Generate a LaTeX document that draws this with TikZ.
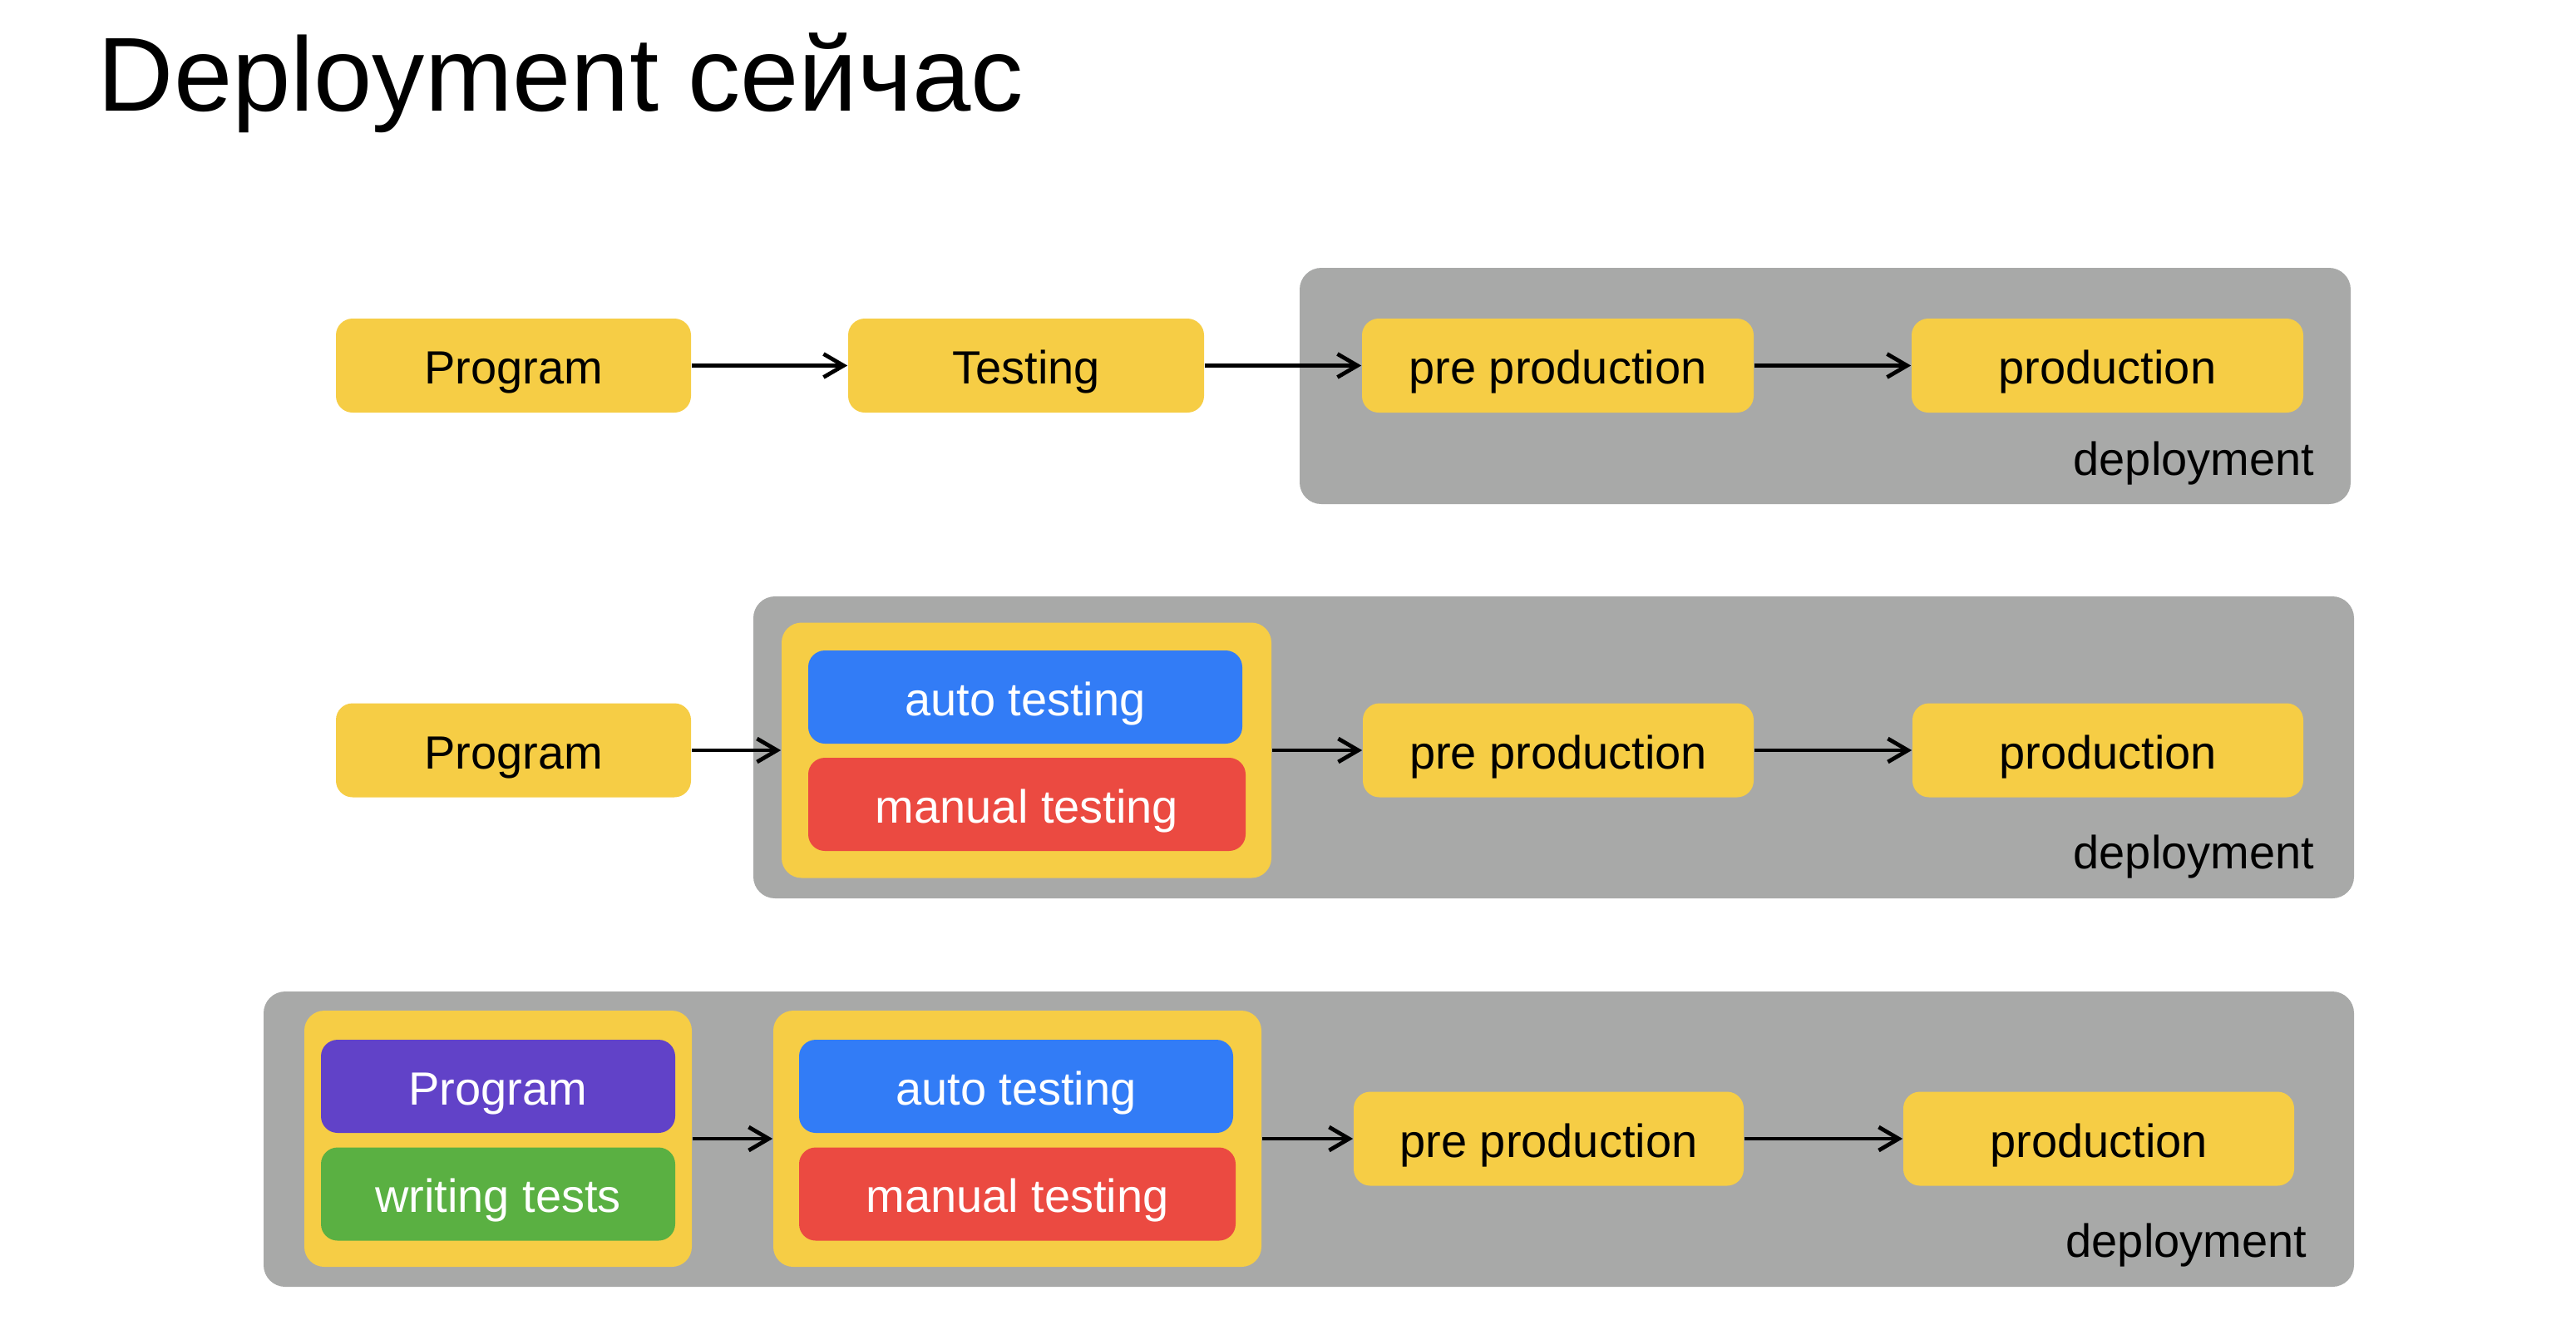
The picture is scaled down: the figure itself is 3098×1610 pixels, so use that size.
\documentclass[tikz,border=0pt]{standalone}
\usepackage{fontspec}
\setmainfont{Liberation Sans}
\usetikzlibrary{arrows.meta}
\definecolor{stageyellow}{RGB}{246,205,69}
\definecolor{envgray}{RGB}{168,169,168}
\definecolor{autoblue}{RGB}{50,124,246}
\definecolor{manualred}{RGB}{235,74,65}
\definecolor{progpurple}{RGB}{97,66,200}
\definecolor{testgreen}{RGB}{90,176,66}
\begin{document}
\begin{tikzpicture}[x=0.25pt,y=0.25pt,yscale=-1,xscale=1,
	stagebox/.style={fill=stageyellow,rounded corners=5pt,inner sep=0pt,minimum height=28.25pt,text height=11pt,text depth=0pt,font=\fontsize{14}{16}\selectfont},
	innerbox/.style={stagebox,text=white,minimum height=28pt},
	envbox/.style={fill=envgray,rounded corners=6.5pt,inner sep=0pt},
	groupbox/.style={fill=stageyellow,rounded corners=6pt,inner sep=0pt},
	envlabel/.style={anchor=base east,inner sep=0pt,font=\fontsize{14}{16}\selectfont},
	flow/.style={-{Straight Barb[length=6pt,width=7pt]},line width=1.2pt}]
	\useasboundingbox (0,0) rectangle (3098,1610);
	\node [anchor=base west,inner sep=0pt,font=\fontsize{31.6}{36}\selectfont] (title) at (117,133) {Deployment сейчас};
	% first row
	\node [envbox,minimum width=316pt,minimum height=71pt] (env1) at (2195,464) {};
	\node [stagebox,minimum width=106.75pt] (prog1) at (617.5,439.5) {Program};
	\node [stagebox,minimum width=107pt] (test1) at (1234,439.5) {Testing};
	\node [stagebox,minimum width=117.75pt] (pre1) at (1873.5,439.5) {pre production};
	\node [stagebox,minimum width=117.75pt] (prod1) at (2534.5,439.5) {production};
	\node [envlabel] (dep1) at (2784,571) {deployment};
	\draw [flow] (prog1) -- (test1);
	\draw [flow] (test1) -- (pre1);
	\draw [flow] (pre1) -- (prod1);
	% second row
	\node [envbox,minimum width=481.25pt,minimum height=90.75pt] (env2) at (1868.5,898.5) {};
	\node [stagebox,minimum width=106.75pt] (prog2) at (617.5,902) {Program};
	\node [groupbox,minimum width=147.25pt,minimum height=76.75pt] (tests2) at (1234.5,902) {};
	\node [innerbox,fill=autoblue,minimum width=130.5pt] (auto2) at (1233,838) {auto testing};
	\node [innerbox,fill=manualred,minimum width=131.5pt] (manual2) at (1235,967) {manual testing};
	\node [stagebox,minimum width=117.5pt] (pre2) at (1874,902) {pre production};
	\node [stagebox,minimum width=117.5pt] (prod2) at (2535,902) {production};
	\node [envlabel] (dep2) at (2784,1044) {deployment};
	\draw [flow] (prog2) -- (tests2);
	\draw [flow] (tests2) -- (pre2);
	\draw [flow] (pre2) -- (prod2);
	% third row
	\node [envbox,minimum width=628.5pt,minimum height=88.75pt] (env3) at (1574,1369.5) {};
	\node [groupbox,minimum width=116.5pt,minimum height=77pt] (dev3) at (599,1369) {};
	\node [innerbox,fill=progpurple,minimum width=106.5pt] (prog3) at (599,1306) {Program};
	\node [innerbox,fill=testgreen,minimum width=106.5pt] (write3) at (599,1435.5) {writing tests};
	\node [groupbox,minimum width=146.75pt,minimum height=77pt] (tests3) at (1223.5,1369) {};
	\node [innerbox,fill=autoblue,minimum width=130.5pt] (auto3) at (1222,1306) {auto testing};
	\node [innerbox,fill=manualred,minimum width=131.25pt] (manual3) at (1223.5,1435.5) {manual testing};
	\node [stagebox,minimum width=117.25pt] (pre3) at (1862.5,1369) {pre production};
	\node [stagebox,minimum width=117.5pt] (prod3) at (2524,1369) {production};
	\node [envlabel] (dep3) at (2775,1511) {deployment};
	\draw [flow] (dev3) -- (tests3);
	\draw [flow] (tests3) -- (pre3);
	\draw [flow] (pre3) -- (prod3);
\end{tikzpicture}
\end{document}
